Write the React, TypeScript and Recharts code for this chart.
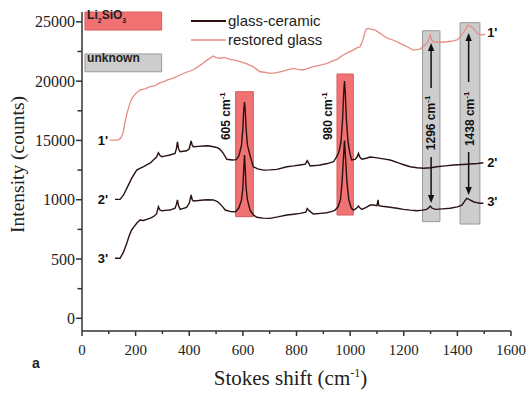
import {
  ComposedChart,
  Line,
  XAxis,
  YAxis,
  ReferenceArea,
  ReferenceLine,
  ReferenceDot,
  Legend,
} from 'recharts';

// Raman spectra, Stokes shift (cm-1) vs intensity (offset stack, axis labelled per curve)
const restoredGlass: [number, number][] = [
  [104, 15030], [134, 15030], [145, 15200], [153, 15620], [160, 16500], [168, 17310], [178, 18100],
  [187, 18580], [200, 18950], [216, 19250], [235, 19350], [254, 19530], [275, 19650], [290, 19850],
  [305, 19950], [317, 20090], [340, 20250], [366, 20520], [390, 20750], [414, 20940], [432, 21200],
  [451, 21500], [465, 21750], [475, 21900], [489, 22120], [500, 21980], [515, 21930], [530, 22000],
  [552, 21840], [570, 21780], [590, 21640], [615, 21450], [638, 21220], [664, 20790], [680, 20750],
  [701, 20660], [720, 20700], [739, 20790], [760, 20900], [787, 21080], [805, 21000], [825, 20940],
  [845, 21100], [862, 21220], [890, 21350], [914, 21500], [935, 21700], [951, 21840], [974, 22200],
  [995, 22450], [1011, 22620], [1025, 22800], [1037, 22900], [1048, 23500], [1056, 24200], [1060, 24370],
  [1067, 24450], [1078, 24380], [1093, 24310], [1112, 24030], [1125, 23800], [1138, 23630], [1160, 23470],
  [1185, 23200], [1213, 22900], [1235, 22620], [1250, 22650], [1261, 22700], [1280, 23040], [1292, 23400],
  [1299, 23890], [1304, 23500], [1310, 23320], [1335, 23280], [1362, 23320], [1385, 23400], [1399, 23470],
  [1410, 23740], [1420, 24000], [1429, 24310], [1436, 24600], [1440, 24730], [1450, 24600], [1459, 24460],
  [1474, 24030], [1485, 23950], [1493, 23890], [1504, 23970],
];

const glassCeramic2: [number, number][] = [
  [123, 10030], [142, 10030], [155, 10400], [167, 10960], [185, 11800], [204, 12500], [216, 12650],
  [230, 12800], [241, 12930], [255, 13100], [266, 13350], [278, 13600], [285, 13960], [292, 13700],
  [297, 13630], [312, 13700], [328, 13770], [347, 13910], [352, 14300], [356, 14890], [360, 14300],
  [366, 14050], [390, 14130], [400, 14300], [407, 14950], [411, 14600], [415, 14470], [435, 14500],
  [453, 14530], [470, 14550], [490, 14470], [505, 14400], [515, 14250], [527, 13910], [540, 13410],
  [560, 13350], [575, 13380], [585, 13700], [595, 14600], [600, 16000], [603, 17500], [606, 18240],
  [609, 17500], [612, 16000], [617, 14600], [627, 13700], [639, 12780], [655, 12600], [677, 12500],
  [700, 12520], [727, 12560], [764, 12780], [790, 12850], [813, 12930], [833, 13000], [840, 13300],
  [846, 13070], [851, 12840], [870, 12880], [888, 12930], [915, 13050], [938, 13200], [950, 13630],
  [958, 14000], [966, 14900], [972, 16800], [976, 19000], [979, 20010], [982, 19000], [986, 16800],
  [992, 14900], [1000, 13800], [1006, 13350], [1018, 13400], [1026, 13600], [1031, 13910], [1036, 13600],
  [1044, 13410], [1060, 13500], [1075, 13600], [1095, 13550], [1112, 13490], [1130, 13420], [1149, 13350],
  [1180, 13100], [1200, 12950], [1224, 12780], [1250, 12700], [1274, 12650], [1300, 12700], [1323, 12780],
  [1355, 12850], [1386, 12930], [1420, 12970], [1448, 13010], [1475, 13060], [1497, 13120],
];

const glassCeramic3: [number, number][] = [
  [123, 5060], [142, 5060], [155, 5600], [167, 6320], [175, 6900], [185, 7450], [195, 7750],
  [204, 8010], [216, 8290], [230, 8250], [241, 8350], [255, 8450], [266, 8570], [278, 8800],
  [285, 9410], [290, 9150], [297, 9070], [312, 9100], [328, 9130], [347, 9280], [352, 9600],
  [356, 9980], [360, 9500], [366, 9190], [390, 9360], [400, 9700], [407, 10400], [411, 10000],
  [415, 9890], [435, 9930], [453, 9980], [470, 10000], [490, 9980], [505, 9850], [515, 9640],
  [525, 9400], [534, 9130], [555, 9000], [573, 8990], [585, 9300], [595, 10000], [600, 11000],
  [603, 12500], [606, 13770], [609, 12500], [612, 11000], [617, 10000], [627, 9100], [640, 8700],
  [652, 8520], [675, 8450], [701, 8430], [730, 8550], [764, 8710], [790, 8780], [813, 8850],
  [835, 8950], [840, 9250], [846, 9100], [863, 8800], [890, 8850], [913, 8900], [930, 9000],
  [944, 9130], [955, 9400], [964, 10000], [970, 11500], [975, 13500], [979, 14980], [983, 13500],
  [988, 11500], [995, 10000], [1004, 9300], [1012, 9130], [1022, 9250], [1031, 9470], [1037, 9300],
  [1044, 9190], [1060, 9350], [1075, 9550], [1087, 9550], [1100, 9500], [1104, 9980], [1107, 9500],
  [1120, 9450], [1149, 9360], [1175, 9280], [1199, 9190], [1225, 9120], [1249, 9070], [1270, 9120],
  [1286, 9190], [1294, 9350], [1299, 9470], [1305, 9300], [1317, 9190], [1345, 9230], [1373, 9280],
  [1400, 9400], [1417, 9550], [1428, 9900], [1435, 10120], [1445, 10000], [1460, 9830], [1475, 9740],
  [1485, 9700], [1497, 9700],
];

const xTicks = [0, 100, 200, 300, 400, 500, 600, 700, 800, 900, 1000, 1100, 1200, 1300, 1400, 1500, 1600];
const yTickValues = [0, 5000, 10000, 15000, 20000, 25000];
const yTickLabels = ['0', '500', '1000', '15000', '20000', '25000'];
const yMinorTicks = [2500, 7500, 12500, 17500, 22500];

// marked bands
const li2sio3Bands = [
  { label: '605', x1: 573, x2: 639, y1: 8570, y2: 19110, labelX: 552, labelY: 15030 },
  { label: '980', x1: 951, x2: 1012, y1: 8710, y2: 20600, labelX: 932, labelY: 15030 },
];
const unknownBands = [
  { label: '1296', x1: 1270, x2: 1335, y1: 8150, y2: 24250, labelX: 1317, labelY: 14180, ax: 1302, up: [19420, 23210], down: [13600, 9720] },
  { label: '1438', x1: 1410, x2: 1484, y1: 7950, y2: 24930, labelX: 1463, labelY: 14520, ax: 1442, up: [19930, 24060], down: [14020, 10400] },
];

const curveTags = [
  { tag: "1'", left: [97, 15030], right: [1511, 24060] },
  { tag: "2'", left: [97, 10030], right: [1511, 13100] },
  { tag: "3'", left: [97, 5060], right: [1511, 9810] },
];

const legendItems = [
  { name: 'glass-ceramic', color: '#2a1212', width: 2 },
  { name: 'restored glass', color: '#e58c88', width: 1.5 },
];

const DARK = '#2a1212';
const PINK = '#e58c88';
const RED = '#f07272';
const GREY = '#cdcdcd';
const SERIF = '"Liberation Serif", "Times New Roman", serif';
const SANS = '"Liberation Sans", Arial, sans-serif';

const toPts = (arr: [number, number][]) => arr.map(([x, y]) => ({ x, y }));

const YTick = ({ x, y, payload }: any) => {
  const idx = yTickValues.indexOf(payload.value);
  const major = idx >= 0;
  return (
    <g>
      <line x1={x - (major ? 6 : 4.5)} x2={x} y1={y} y2={y} stroke="#333" strokeWidth={1.5} />
      {major && (
        <text x={x - 7} y={y} dy={5.5} textAnchor="end" fontFamily={SERIF} fontSize={16} fill="#222">
          {yTickLabels[idx]}
        </text>
      )}
    </g>
  );
};

const XTick = ({ x, y, payload }: any) => {
  const major = payload.value % 200 === 0;
  return (
    <g>
      <line x1={x} x2={x} y1={y} y2={y + (major ? 5 : 3)} stroke="#333" strokeWidth={1.5} />
      {major && (
        <text x={x} y={y + 24} textAnchor="middle" fontFamily={SERIF} fontSize={15} fill="#222">
          {payload.value}
        </text>
      )}
    </g>
  );
};

const YTitle = ({ viewBox }: any) => {
  const cx = 24;
  const cy = viewBox.y + viewBox.height / 2 - 7;
  return (
    <text x={cx} y={cy} transform={`rotate(-90 ${cx} ${cy})`} textAnchor="middle" fontFamily={SERIF} fontSize={19.5} fill="#222">
      Intensity (counts)
    </text>
  );
};

const XTitle = ({ viewBox }: any) => {
  const cx = viewBox.x + viewBox.width / 2 - 6;
  return (
    <g>
      <text x={cx} y={viewBox.y + 54} textAnchor="middle" fontFamily={SERIF} fontSize={21} fill="#222">
        Stokes shift (cm
        <tspan fontSize={12} dy={-8}>-1</tspan>
        <tspan dy={8}>)</tspan>
      </text>
      <text x={32} y={viewBox.y + 37} fontFamily={SANS} fontWeight="bold" fontSize={14} fill="#222">a</text>
    </g>
  );
};

const Arrow = (p: any) => {
  const { x1, y1, x2, y2 } = p;
  const dir = y2 < y1 ? 1 : -1;
  const hl = 8;
  const hw = 3.2;
  return (
    <g>
      <line x1={x1} y1={y1} x2={x2} y2={y2 + dir * hl} stroke="#111" strokeWidth={1.5} />
      <polygon points={`${x2},${y2} ${x2 - hw},${y2 + dir * hl} ${x2 + hw},${y2 + dir * hl}`} fill="#111" />
    </g>
  );
};

const peakText = (label: string) => (p: any) => (
  <text x={p.cx} y={p.cy} transform={`rotate(-90 ${p.cx} ${p.cy})`} fontFamily={SANS} fontWeight="bold" fontSize={12} fill="#111">
    {label} cm
    <tspan fontSize={8} dy={-5}>-1</tspan>
  </text>
);

const tagText = (tag: string, anchor: 'start' | 'end') => (p: any) => (
  <text x={p.cx} y={p.cy} dy={4.5} textAnchor={anchor} fontFamily={SANS} fontWeight="bold" fontSize={13} fill="#111">
    {tag}
  </text>
);

const renderLegend = () => (
  <div style={{ fontFamily: SANS, fontSize: 15, color: '#222', lineHeight: '19px' }}>
    {legendItems.map((it) => (
      <div key={it.name} style={{ display: 'flex', alignItems: 'center', height: 19 }}>
        <svg width={38} height={19} style={{ display: 'block' }}>
          <line x1={1} x2={36} y1={10} y2={10} stroke={it.color} strokeWidth={it.width} />
        </svg>
        <span>{it.name}</span>
      </div>
    ))}
  </div>
);

export default function App() {
  return (
    <div style={{ position: 'absolute', left: 0, top: 0, background: '#fff' }}>
      <ComposedChart width={530} height={394} margin={{ top: 12, right: 19, bottom: 0, left: 0 }}>
        <XAxis
          type="number"
          dataKey="x"
          domain={[0, 1600]}
          ticks={xTicks}
          interval={0}
          allowDataOverflow
          tickSize={0}
          tickMargin={0}
          height={63}
          stroke="#333"
          strokeWidth={1.5}
          tick={<XTick />}
          label={{ content: XTitle }}
        />
        <YAxis
          type="number"
          domain={[-1070, 25830]}
          ticks={[...yTickValues, ...yMinorTicks].sort((a, b) => a - b)}
          interval={0}
          allowDataOverflow
          tickSize={0}
          tickMargin={0}
          width={82}
          stroke="#333"
          strokeWidth={1.5}
          tick={<YTick />}
          label={{ content: YTitle }}
        />
        <Legend
          layout="vertical"
          align="center"
          verticalAlign="middle"
          content={renderLegend}
          wrapperStyle={{ left: 190, top: 11, width: 170 }}
        />

        <ReferenceArea x1={11} x2={297} y1={24310} y2={25830} fill={RED} fillOpacity={1} stroke="#d85c5c" strokeWidth={1} ifOverflow="visible" />
        <ReferenceArea x1={11} x2={297} y1={20790} y2={22290} fill={GREY} fillOpacity={1} stroke="#999" strokeWidth={1} ifOverflow="visible" />
        <ReferenceDot
          x={19}
          y={25230}
          r={0}
          shape={(p: any) => (
            <text x={p.cx} y={p.cy} fontFamily={SANS} fontWeight="bold" fontSize={12} fill="#222">
              Li<tspan fontSize={7} dy={4}>2</tspan>
              <tspan dy={-4}>SiO</tspan>
              <tspan fontSize={7} dy={4}>3</tspan>
            </text>
          )}
        />
        <ReferenceDot
          x={19}
          y={21640}
          r={0}
          shape={(p: any) => (
            <text x={p.cx} y={p.cy} fontFamily={SANS} fontWeight="bold" fontSize={12} fill="#222">
              unknown
            </text>
          )}
        />

        {li2sio3Bands.map((b) => (
          <ReferenceArea key={b.label} x1={b.x1} x2={b.x2} y1={b.y1} y2={b.y2} fill={RED} fillOpacity={1} stroke="#d85c5c" strokeWidth={1} />
        ))}
        {unknownBands.map((b) => (
          <ReferenceArea key={b.label} x1={b.x1} x2={b.x2} y1={b.y1} y2={b.y2} fill={GREY} fillOpacity={1} stroke="#999" strokeWidth={1} />
        ))}

        <Line data={toPts(restoredGlass)} dataKey="y" type="linear" stroke={PINK} strokeWidth={1.3} dot={false} isAnimationActive={false} />
        <Line data={toPts(glassCeramic2)} dataKey="y" type="linear" stroke={DARK} strokeWidth={1.4} dot={false} isAnimationActive={false} />
        <Line data={toPts(glassCeramic3)} dataKey="y" type="linear" stroke={DARK} strokeWidth={1.4} dot={false} isAnimationActive={false} />

        {unknownBands.map((b) => (
          <ReferenceLine key={b.label + 'u'} segment={[{ x: b.ax, y: b.up[0] }, { x: b.ax, y: b.up[1] }]} shape={Arrow} />
        ))}
        {unknownBands.map((b) => (
          <ReferenceLine key={b.label + 'd'} segment={[{ x: b.ax, y: b.down[0] }, { x: b.ax, y: b.down[1] }]} shape={Arrow} />
        ))}
        {[...li2sio3Bands, ...unknownBands].map((b) => (
          <ReferenceDot key={b.label + 't'} x={b.labelX} y={b.labelY} r={0} shape={peakText(b.label)} />
        ))}
        {curveTags.map((c) => (
          <ReferenceDot key={c.tag + 'l'} x={c.left[0]} y={c.left[1]} r={0} shape={tagText(c.tag, 'end')} />
        ))}
        {curveTags.map((c) => (
          <ReferenceDot key={c.tag + 'r'} x={c.right[0]} y={c.right[1]} r={0} shape={tagText(c.tag, 'start')} />
        ))}
      </ComposedChart>
    </div>
  );
}
